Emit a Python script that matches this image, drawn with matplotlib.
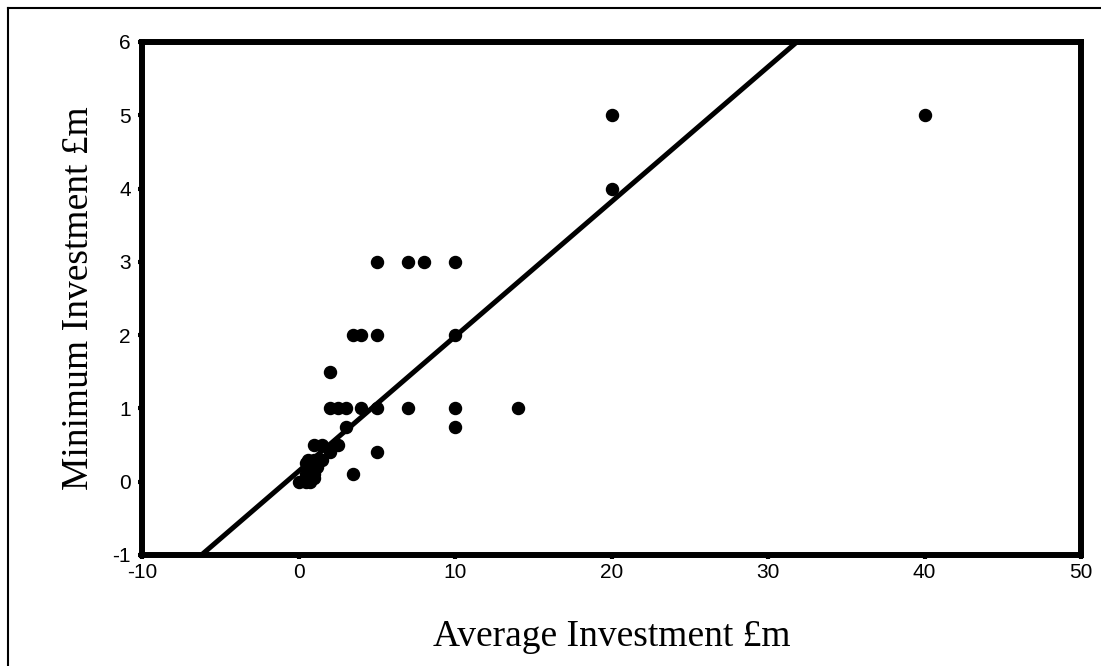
import matplotlib.pyplot as plt
import numpy as np
from matplotlib.lines import Line2D

# Average investment (x) and minimum investment (y), £m
avg_invest = [
    20, 20, 40,
    5, 7, 8, 10,
    3.5, 4, 5, 10,
    2,
    2, 2.5, 3, 4, 5, 7, 10, 14,
    3, 10, 5, 3.5,
    1, 1.5, 2.5, 2, 1.5, 2,
    0, 0.5, 0.7, 1, 0.5, 0.8, 0.5, 1, 1.2, 0.6, 1, 0.9,
]
min_invest = [
    5, 4, 5,
    3, 3, 3, 3,
    2, 2, 2, 2,
    1.5,
    1, 1, 1, 1, 1, 1, 1, 1,
    0.75, 0.75, 0.4, 0.1,
    0.5, 0.5, 0.5, 0.45, 0.3, 0.4,
    0, 0, 0, 0.05, 0.1, 0.2, 0.25, 0.3, 0.2, 0.3, 0.1, 0.15,
]

# fitted line y = a + b*x
fit_intercept = 0.142
fit_slope = 0.184
fit_x_range = [-6.3, 33]

x_ticks = [-10, 0, 10, 20, 30, 40, 50]
y_ticks = [-1, 0, 1, 2, 3, 4, 5, 6]

plt.rcParams["axes.unicode_minus"] = False

fig = plt.figure(figsize=(11.01, 6.66), dpi=100)
ax = fig.add_axes([0.129, 0.1667, 0.853, 0.7703])

ax.scatter(avg_invest, min_invest, s=75, color="black", zorder=3, clip_on=False)
fx = np.array(fit_x_range)
ax.plot(fx, fit_intercept + fit_slope * fx, color="black", lw=3.6,
        solid_capstyle="butt", zorder=2)

ax.set_xlim(-10, 50)
ax.set_ylim(-1, 6)
ax.set_xticks(x_ticks)
ax.set_yticks(y_ticks)
ax.tick_params(direction="out", length=3, width=3, color="black",
               labelsize=15, pad=3)
ax.tick_params(axis="y", pad=5)
for lab in ax.get_xticklabels() + ax.get_yticklabels():
    lab.set_family("Liberation Sans")

for sp in ax.spines.values():
    sp.set_linewidth(4.3)
    sp.set_color("black")

ax.set_xlabel("Average Investment £m", family="Liberation Serif",
              fontsize=27, labelpad=27)
ax.set_ylabel("Minimum Investment £m", family="Liberation Serif",
              fontsize=27, labelpad=12)

# thin outer frame (left and top edges only show in the picture)
fig.add_artist(Line2D([8 / 1101, 8 / 1101], [0, 1 - 8 / 666],
                      transform=fig.transFigure, color="black", lw=1.5))
fig.add_artist(Line2D([8 / 1101, 1], [1 - 8 / 666, 1 - 8 / 666],
                      transform=fig.transFigure, color="black", lw=1.5))

fig.savefig("out.png", dpi=100, facecolor="white")
